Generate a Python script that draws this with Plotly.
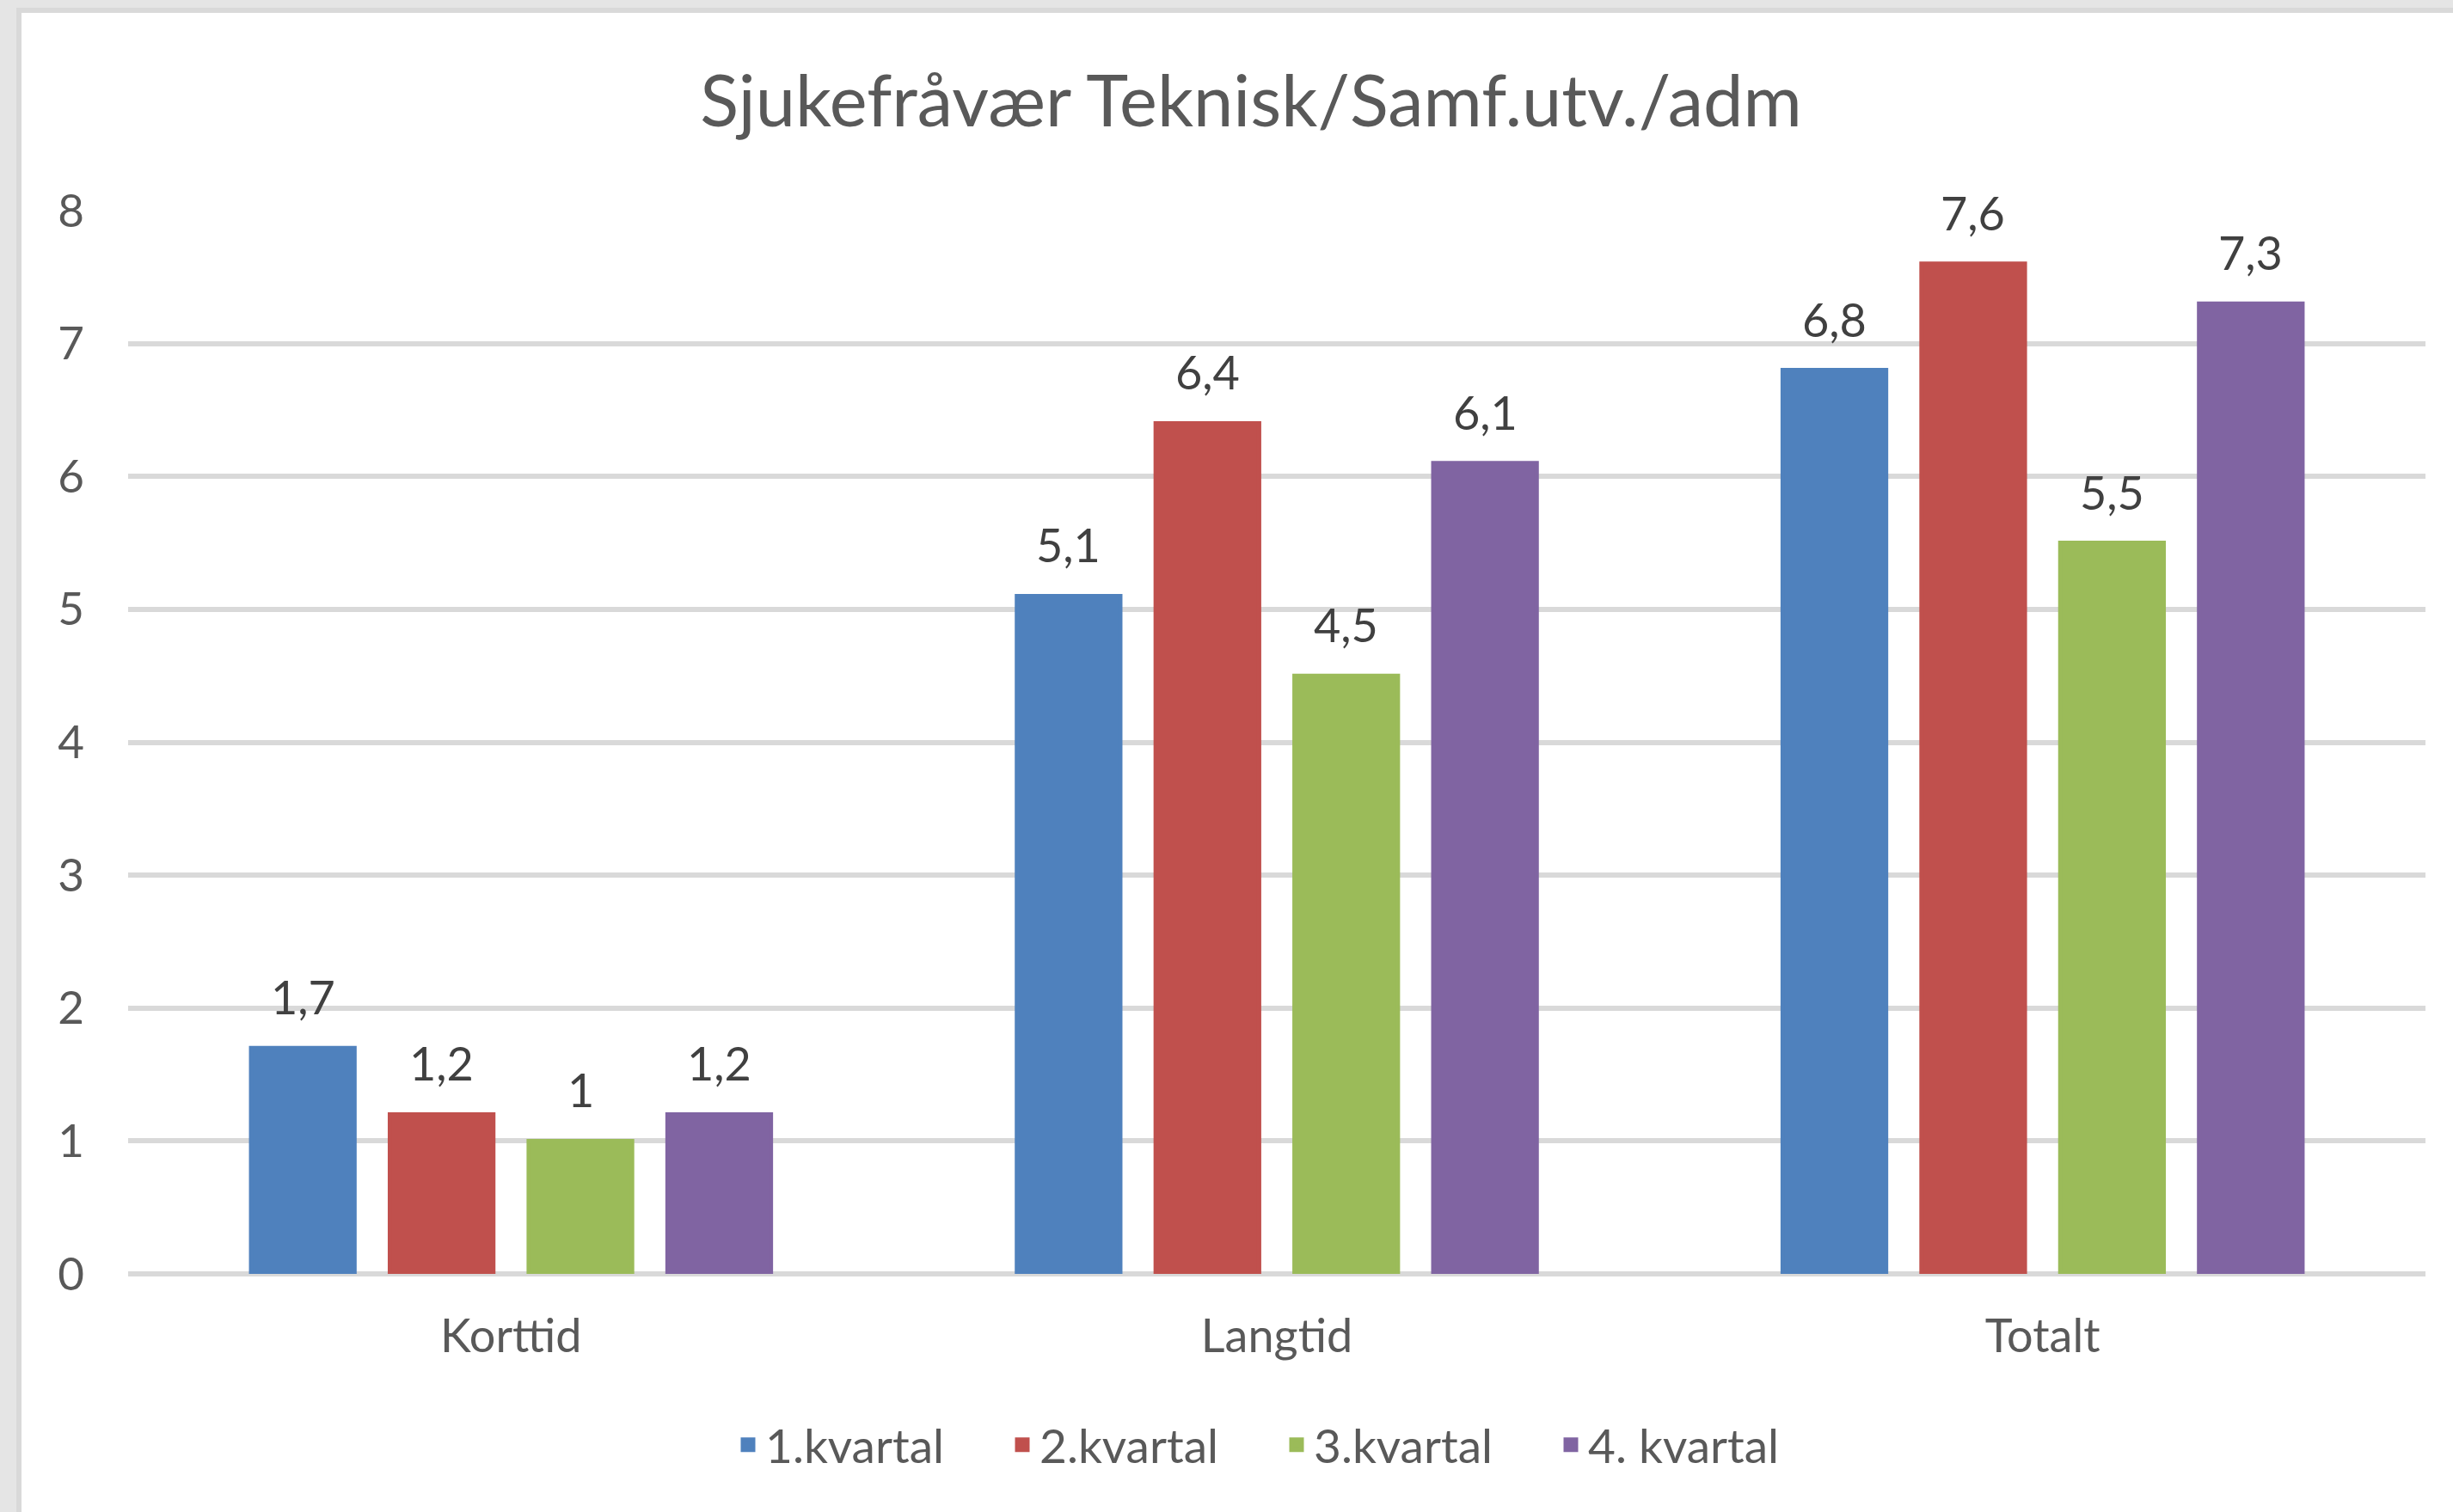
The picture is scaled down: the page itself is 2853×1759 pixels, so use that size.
import plotly.graph_objects as go

# ---- data ----
categories = ["Korttid", "Langtid", "Totalt"]
series_names = ["1.kvartal", "2.kvartal", "3.kvartal", "4. kvartal"]
q1 = [1.7, 5.1, 6.8]
q2 = [1.2, 6.4, 7.6]
q3 = [1.0, 4.5, 5.5]
q4 = [1.2, 6.1, 7.3]
y_ticks = [0, 1, 2, 3, 4, 5, 6, 7, 8]
title_text = "Sjukefråvær Teknisk/Samf.utv./adm"

# ---- styling ----
colors = ["#4F81BD", "#C0504D", "#9BBB59", "#8064A2"]
FONT = "Lato"
W, H = 2853, 1759
L, R, T, B = 149, 32, 245, 277
PW, PH = W - L - R, H - T - B
BARGAP = 0.275
BARGROUPGAP = 0.255
STROKE = 5


def px_x(px):
    return (px - L) / PW


def px_y(py):
    return (H - py - B) / PH


def fmt(v):
    return f"{v:g}".replace(".", ",")


series = [q1, q2, q3, q4]
fig = go.Figure()
for name, vals, col in zip(series_names, series, colors):
    fig.add_trace(go.Bar(
        x=categories, y=vals, name=name,
        marker=dict(color=col, line=dict(color=col, width=STROKE)),
        hoverinfo="x+y+name",
    ))

# value labels
slot = (1 - BARGAP) * PW / len(categories) / len(series)
annotations = []
for i, vals in enumerate(series):
    for cat, v in zip(categories, vals):
        annotations.append(dict(
            x=cat, y=v, xref="x", yref="y", text=fmt(v), showarrow=False,
            xshift=(i - (len(series) - 1) / 2) * slot, yanchor="bottom", yshift=25,
            font=dict(family=FONT, size=54, color="#404040"),
        ))

# frame strips on the left and top edges
shapes = [
    dict(type="rect", xref="paper", yref="paper", x0=px_x(0), x1=px_x(19), y0=px_y(H), y1=px_y(0),
         fillcolor="#E5E5E5", line=dict(width=0), layer="below"),
    dict(type="rect", xref="paper", yref="paper", x0=px_x(0), x1=px_x(W), y0=px_y(9), y1=px_y(0),
         fillcolor="#E5E5E5", line=dict(width=0), layer="below"),
    dict(type="rect", xref="paper", yref="paper", x0=px_x(19), x1=px_x(25), y0=px_y(H), y1=px_y(9),
         fillcolor="#D9D9D9", line=dict(width=0), layer="below"),
    dict(type="rect", xref="paper", yref="paper", x0=px_x(19), x1=px_x(W), y0=px_y(15), y1=px_y(9),
         fillcolor="#D9D9D9", line=dict(width=0), layer="below"),
]

fig.update_layout(
    width=W, height=H,
    margin=dict(l=L, r=R, t=T, b=B, pad=0, autoexpand=False),
    paper_bgcolor="white", plot_bgcolor="white",
    barmode="group", bargap=BARGAP, bargroupgap=BARGROUPGAP,
    title=dict(text=title_text, x=1455 / W, xanchor="center", xref="container",
               y=1 - 118 / H, yanchor="middle", yref="container",
               font=dict(family=FONT, size=83, color="#595959")),
    font=dict(family=FONT, size=53, color="#595959"),
    legend=dict(orientation="h", x=px_x(1488), xanchor="center", y=px_y(1681), yanchor="middle",
                font=dict(family=FONT, size=55, color="#595959"),
                entrywidth=274, entrywidthmode="pixels", traceorder="normal"),
    annotations=annotations,
    shapes=shapes,
    showlegend=True,
)
fig.update_xaxes(type="category", showgrid=False, showline=False, ticks="", automargin=False,
                 tickfont=dict(family=FONT, size=54, color="#595959"), ticklabelstandoff=36)
fig.update_yaxes(range=[0, 8.0001], tickvals=y_ticks, showgrid=True, gridcolor="#D9D9D9", gridwidth=6,
                 zeroline=True, zerolinecolor="#D9D9D9", zerolinewidth=6, showline=False, ticks="",
                 automargin=False,
                 tickfont=dict(family=FONT, size=53, color="#595959"), ticklabelstandoff=50)

fig.write_html(
    "out.html",
    config={"displayModeBar": False},
    post_script="document.body.style.margin='0';document.body.style.overflow='hidden';"
                "document.documentElement.style.overflow='hidden';",
)
